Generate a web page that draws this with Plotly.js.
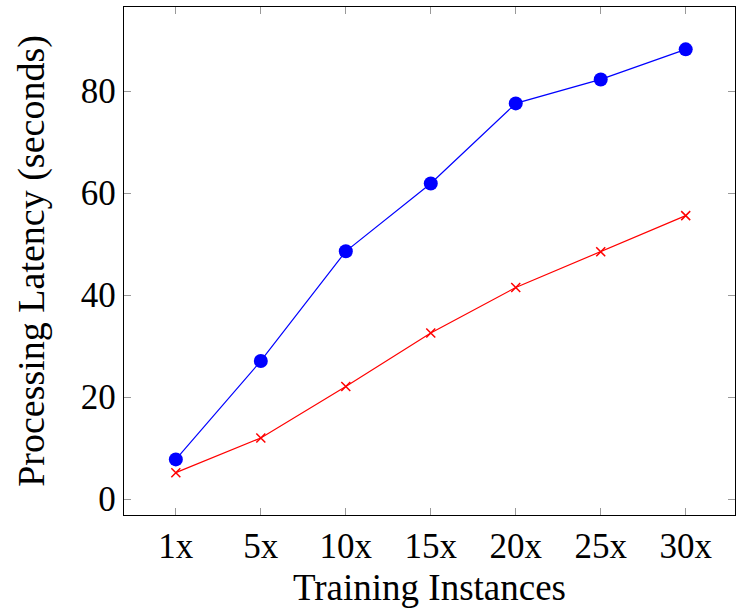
<!DOCTYPE html>
<html><head><meta charset="utf-8">
<script src="https://cdn.plot.ly/plotly-3.0.1.min.js"></script>
<style>body{margin:0;background:#fff}#c{width:736px;height:615px}</style>
</head><body><div id="c"></div>
<script>
const categories = ["1x","5x","10x","15x","20x","25x","30x"];
const seriesBlue = [7.8, 27.1, 48.6, 61.9, 77.6, 82.3, 88.2];
const seriesRed = [5.2, 12.0, 22.1, 32.6, 41.5, 48.5, 55.6];
const yTicks = [0, 20, 40, 60, 80];

const font = "'Liberation Serif', 'DejaVu Serif', serif";
const traces = [
  {x: categories, y: seriesBlue, type: 'scatter', mode: 'lines+markers',
   line: {color: 'rgb(0,0,255)', width: 1.2},
   marker: {symbol: 'circle', size: 14, color: 'rgb(0,0,255)'}},
  {x: categories, y: seriesRed, type: 'scatter', mode: 'lines+markers',
   line: {color: 'rgb(255,0,0)', width: 1.2},
   marker: {symbol: 'x-thin', size: 9, color: 'rgb(255,0,0)', line: {color: 'rgb(255,0,0)', width: 1.5}}}
];
const axisCommon = {
  showgrid: false, zeroline: false, showline: true, linecolor: 'black', linewidth: 1.2,
  mirror: 'ticks', ticks: 'inside', ticklen: 7, tickcolor: '#999', tickwidth: 1,
  tickfont: {family: font, size: 35, color: 'black'}
};
const layout = {
  width: 736, height: 615, showlegend: false,
  paper_bgcolor: 'white', plot_bgcolor: 'white',
  margin: {l: 124, r: 1, t: 7, b: 100},
  xaxis: Object.assign({}, axisCommon, {
    type: 'category', range: [-0.61, 6.58],
    title: {text: 'Training Instances', font: {family: font, size: 37, color: 'black'}, standoff: 8}
  }),
  yaxis: Object.assign({}, axisCommon, {
    range: [-3.1, 96.5], tickvals: yTicks, ticktext: yTicks.map(String),
    title: {text: 'Processing Latency (seconds)', font: {family: font, size: 38, color: 'black'}, standoff: 24}
  })
};
Plotly.newPlot('c', traces, layout, {displayModeBar: false, staticPlot: true});
</script></body></html>
